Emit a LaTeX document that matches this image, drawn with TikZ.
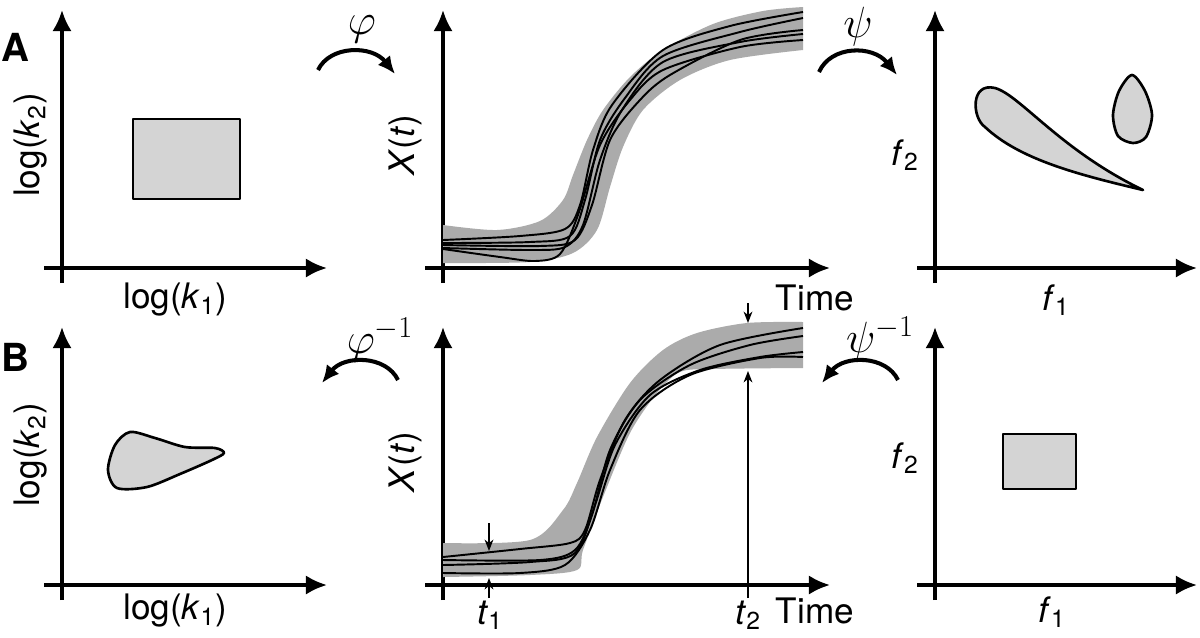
\documentclass[tikz,border=0pt]{standalone}
\usepackage{fontspec}
\setmainfont{TeX Gyre Heros}
\usetikzlibrary{arrows.meta,positioning}

\tikzset{
  axis/.style={line width=2pt,-{Latex[length=12pt,width=11pt]}},
  region/.style={draw,line width=1.5pt,line join=round,fill=black!17},
  traj/.style={line width=1.1pt},
  band/.style={fill=black!33},
  mapto/.style={line width=2.3pt,-{Latex[length=10pt,width=9pt]}},
  probe/.style={line width=0.8pt,-{Stealth[length=6.5pt,width=5pt,inset=2pt]}},
  lab/.style={font=\fontsize{20}{24}\selectfont},
  greek/.style={font=\fontsize{26}{30}\selectfont,inner sep=0pt},
  panel/.style={font=\fontsize{22}{26}\selectfont\bfseries},
}

\begin{document}
\begin{tikzpicture}[x=0.02cm,y=-0.02cm]
\useasboundingbox (0,0) rectangle (1200,637);

% axes of all six panels
\foreach \y in {0,317}
  \foreach \x/\xe in {62/327,443/830,935/1197}{
    \draw[axis] (\x,283+\y) -- (\x,10+\y);
    \draw[axis] (\x-18,268+\y) -- (\xe,268+\y);
  }

% ---- row A ----
\node[panel] (A) at (15,47) {A};
\node[lab,rotate=90] (k2a) at (31,145) {log(\textit{k}\textsubscript{2})};
\node[lab] (k1a) at (175,300) {log(\textit{k}\textsubscript{1})};
\draw[region] (133,119) rectangle (240,199);

% parameter map
\coordinate (phiS) at (318,70);
\coordinate (phiE) at (395,74);
\draw[mapto] (phiS) .. controls (330,45) and (372,45) .. (phiE);
\node[greek] (phi) at (362,29) {$\varphi$};

% trajectories
\fill[band] plot[smooth] coordinates {(443,225) (497,230) (540,221) (563,200) (573,175) (587,140) (603,110) (630,77) (663,50) (713,24) (763,11) (803,7)}
  -- plot[smooth] coordinates {(803,50) (730,60) (680,80) (643,110) (623,147) (610,187) (597,230) (573,253) (530,262) (443,263)} -- cycle;
\draw[traj] plot[smooth] coordinates {(443,240) (520,236) (565,229) (580,205) (593,150) (612,105) (663,50) (730,26) (803,12)};
\draw[traj] plot[smooth] coordinates {(443,243) (530,242) (570,236) (585,200) (600,140) (625,98) (663,56) (740,32) (803,18)};
\draw[traj] plot[smooth] coordinates {(443,248) (530,250) (565,247) (583,225) (600,160) (622,110) (663,62) (740,42) (803,34)};
\draw[traj] plot[smooth] coordinates {(443,249) (500,257) (535,261) (560,254) (578,215) (600,145) (630,100) (663,70) (740,47) (803,40)};
\draw[traj] plot[smooth] coordinates {(443,245) (540,246) (575,240) (592,205) (610,140) (640,100) (670,75) (740,40) (803,30)};
\node[lab,rotate=90] (xa) at (405,145) {\textit{X}(\textit{t})};
\node[lab] (timea) at (815,298) {Time};

% feature map
\coordinate (psiS) at (819,72);
\coordinate (psiE) at (897,75);
\draw[mapto] (psiS) .. controls (831,45) and (873,45) .. (psiE);
\node[greek] (psi) at (858,27) {$\psi$};

\draw[region] (1143,190) .. controls (1060,150) and (1020,95) .. (995,88)
  .. controls (970,82) and (972,118) .. (985,127)
  .. controls (1020,160) and (1080,175) .. (1143,190) -- cycle;
\draw[region] plot[smooth cycle] coordinates {(1132,75) (1145,91) (1152,115) (1146,137) (1133,143) (1118,136) (1113,115) (1119,91)};
\node[lab] (f2a) at (905,155) {\textit{f}\textsubscript{2}};
\node[lab] (f1a) at (1056,300) {\textit{f}\textsubscript{1}};

% ---- row B ----
\node[panel] (B) at (15,357) {B};
\node[lab,rotate=90] (k2b) at (31,455) {log(\textit{k}\textsubscript{2})};
\node[lab] (k1b) at (175,611) {log(\textit{k}\textsubscript{1})};
\draw[region] plot[smooth cycle] coordinates {(130,432) (155,438) (185,447) (215,448) (224,453) (212,460) (180,474) (147,487) (117,488) (108,470) (115,445)};

\coordinate (phiiS) at (398,380);
\coordinate (phiiE) at (322,383);
\draw[mapto] (phiiS) .. controls (386,355) and (344,355) .. (phiiE);
\node[greek] (phii) at (380,340) {$\varphi^{-1}$};

\fill[band] plot[smooth] coordinates {(443,543) (530,540) (563,510) (577,483) (597,437) (630,383) (663,350) (697,333) (747,323) (803,322)}
  -- plot[smooth] coordinates {(803,368) (713,369) (680,372) (657,393) (630,433) (603,497) (583,550) (577,570) (530,575) (443,577)} -- cycle;
\draw[traj] plot[smooth] coordinates {(443,557) (520,549) (570,543) (585,530) (600,480) (625,420) (660,380) (720,345) (803,328)};
\draw[traj] plot[smooth] coordinates {(443,560) (540,560) (575,550) (592,515) (610,450) (640,400) (690,365) (750,345) (803,336)};
\draw[traj] plot[smooth] coordinates {(443,565) (530,562) (575,553) (595,505) (615,445) (650,395) (700,370) (760,357) (803,352)};
\draw[traj] plot[smooth] coordinates {(443,573) (520,573) (565,565) (590,530) (610,470) (640,410) (690,375) (760,358) (803,357)};
\node[lab,rotate=90] (xb) at (405,462) {\textit{X}(\textit{t})};
\node[lab] (timeb) at (815,611) {Time};

% sampling times
\coordinate (t1top) at (489,523);
\coordinate (t1hi) at (489,551);
\coordinate (t1bot) at (489,598);
\coordinate (t1lo) at (489,578);
\draw[probe] (t1top) -- (t1hi);
\draw[probe] (t1bot) -- (t1lo);
\coordinate (t2top) at (748,303);
\coordinate (t2hi) at (748,323);
\coordinate (t2bot) at (748,598);
\coordinate (t2lo) at (748,371);
\draw[probe] (t2top) -- (t2hi);
\draw[probe] (t2bot) -- (t2lo);
\node[lab] (t1) at (490,615) {\textit{t}\textsubscript{1}};
\node[lab] (t2) at (748,615) {\textit{t}\textsubscript{2}};

\coordinate (psiiS) at (898,380);
\coordinate (psiiE) at (822,383);
\draw[mapto] (psiiS) .. controls (886,355) and (844,355) .. (psiiE);
\node[greek] (psii) at (880,339) {$\psi^{-1}$};

\draw[region] (1003,434) rectangle (1076,489);
\node[lab] (f2b) at (905,458) {\textit{f}\textsubscript{2}};
\node[lab] (f1b) at (1052,612) {\textit{f}\textsubscript{1}};
\end{tikzpicture}
\end{document}
